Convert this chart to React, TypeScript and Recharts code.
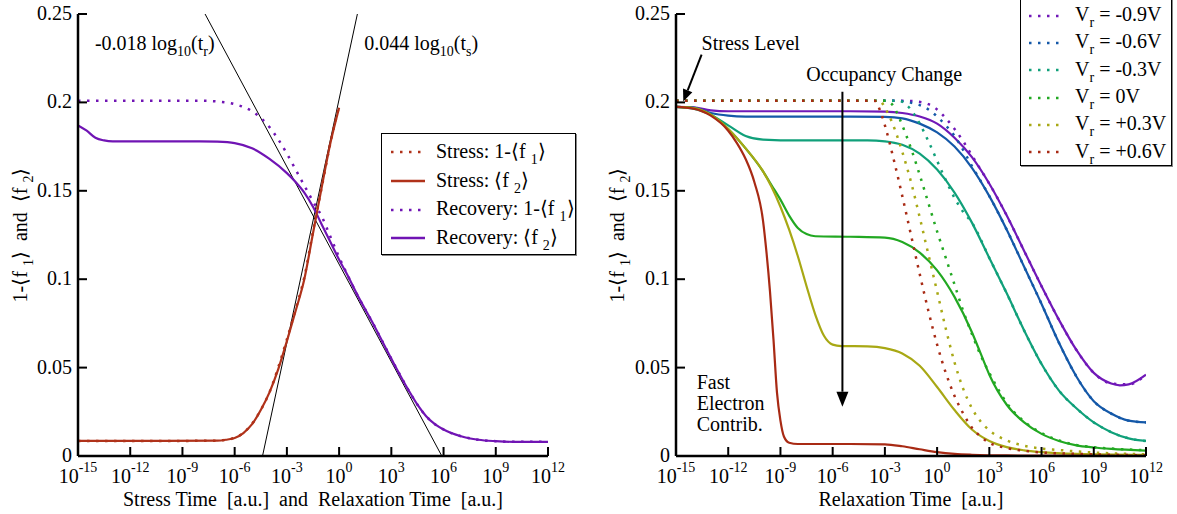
import React from 'react';
import { ComposedChart, Line, XAxis, YAxis, Legend, ReferenceDot, ReferenceLine } from 'recharts';

const FONT = '"Liberation Serif", "Times New Roman", serif';

// axes (x is log10 of time)
const X_TICKS = [-15, -12, -9, -6, -3, 0, 3, 6, 9, 12];
const Y_TICKS = [0, 0.05, 0.1, 0.15, 0.2, 0.25];
const Y_TICK_LABELS = ['0', '0.05', '0.1', '0.15', '0.2', '0.25'];

// left panel: stress
const STRESS_T = [-15, -10, -7, -6.5, -6, -5.5, -5, -4.5, -4, -3.5, -3, -2.5, -2, -1.5, -1, -0.5, 0];
const STRESS_F1 = [0.0085, 0.0085, 0.0087, 0.0092, 0.0103, 0.0131, 0.0183, 0.026, 0.036, 0.05, 0.066, 0.083, 0.101, 0.127, 0.152, 0.177, 0.198];
const STRESS_F2 = [0.0085, 0.0085, 0.0087, 0.0092, 0.0102, 0.013, 0.018, 0.026, 0.036, 0.049, 0.065, 0.082, 0.1, 0.126, 0.152, 0.177, 0.197];

// left panel: recovery
const REC_T = [-15, -14.5, -14, -13.5, -13, -12, -10, -8, -7, -6, -5, -4, -3, -2.5, -2, -1.5, -1, -0.5, 0, 0.5, 1, 2, 3, 4, 4.5, 5, 5.5, 6, 7, 8, 9, 10, 12];
const REC_F1 = [0.201, 0.201, 0.201, 0.201, 0.201, 0.201, 0.201, 0.201, 0.2005, 0.199, 0.195, 0.186, 0.171, 0.162, 0.153, 0.144, 0.1355, 0.124, 0.1125, 0.102, 0.092, 0.074, 0.055, 0.037, 0.029, 0.0225, 0.018, 0.015, 0.0112, 0.0092, 0.0084, 0.008, 0.008];
const REC_F2 = [0.187, 0.184, 0.18, 0.1785, 0.178, 0.178, 0.178, 0.178, 0.1778, 0.177, 0.174, 0.168, 0.16, 0.155, 0.149, 0.141, 0.131, 0.121, 0.111, 0.102, 0.092, 0.074, 0.055, 0.037, 0.029, 0.0225, 0.018, 0.015, 0.0112, 0.0092, 0.0084, 0.008, 0.008];

// fitted slopes
const FIT_R_T = [-7.7, 5.9];
const FIT_R_V = [0.25, 0];
const FIT_S_T = [-4.4, 1.05];
const FIT_S_V = [0, 0.25];

const LEFT_NAMES = ['Stress: 1-⟨f {1}⟩', 'Stress: ⟨f {2}⟩', 'Recovery: 1-⟨f {1}⟩', 'Recovery: ⟨f {2}⟩'];
const LEFT_COLORS = ['#b0321a', '#b0321a', '#7014b4', '#7014b4'];

// right panel: relaxation at different V_r
const VR_NAMES = ['V{r} = -0.9V', 'V{r} = -0.6V', 'V{r} = -0.3V', 'V{r} = 0V', 'V{r} = +0.3V', 'V{r} = +0.6V'];
const VR_COLORS = ['#7018b8', '#1458a8', '#10a07a', '#22a822', '#a8a814', '#a82a14'];

const N09_T = [-15, -14, -13, -12, -10, -5, -3, -2, -1, 0, 1, 2, 3, 4, 5, 6, 7, 8, 9, 10, 10.5, 11, 12];
const N09_F2 = [0.1975, 0.1972, 0.1955, 0.195, 0.195, 0.195, 0.1948, 0.194, 0.192, 0.188, 0.18, 0.169, 0.154, 0.136, 0.116, 0.096, 0.077, 0.06, 0.047, 0.041, 0.04, 0.0405, 0.046];
const N09_DT = [-15, -2, -1.2, -0.5, 0, 0.5, 1, 1.5, 2, 2.5, 3, 4, 5, 6, 7, 8, 9, 10, 11, 12];
const N09_F1 = [0.201, 0.201, 0.2005, 0.199, 0.196, 0.191, 0.185, 0.178, 0.17, 0.162, 0.154, 0.136, 0.116, 0.096, 0.077, 0.06, 0.047, 0.041, 0.0405, 0.046];

const N06_T = [-15, -14, -13, -12, -11, -5, -3, -2, -1, 0, 1, 2, 3, 4, 5, 6, 7, 8, 9, 10, 11, 12];
const N06_F2 = [0.1975, 0.197, 0.194, 0.1925, 0.192, 0.192, 0.1918, 0.191, 0.188, 0.183, 0.175, 0.163, 0.147, 0.128, 0.107, 0.086, 0.064, 0.045, 0.031, 0.024, 0.02, 0.019];
const N06_DT = [-15, -2.5, -1.6, -1, -0.5, 0, 0.5, 1, 1.5, 2, 3, 4, 5, 6, 7, 8, 9, 10, 11, 12];
const N06_F1 = [0.201, 0.201, 0.2, 0.1985, 0.196, 0.192, 0.187, 0.181, 0.173, 0.164, 0.147, 0.128, 0.107, 0.086, 0.064, 0.045, 0.031, 0.024, 0.02, 0.019];

const N03_T = [-15, -14, -13, -12, -11, -10, -8, -4, -3, -2, -1, 0, 1, 2, 3, 4, 5, 6, 7, 8, 9, 10, 11, 12];
const N03_F2 = [0.1975, 0.1965, 0.193, 0.187, 0.181, 0.179, 0.1785, 0.1785, 0.178, 0.176, 0.171, 0.162, 0.149, 0.132, 0.112, 0.092, 0.071, 0.052, 0.037, 0.027, 0.019, 0.0135, 0.01, 0.0085];
const N03_DT = [-15, -2.2, -1.7, -1, -0.5, 0, 0.5, 1, 1.5, 2, 3, 4, 5, 6, 7, 8, 9, 10, 11, 12];
const N03_F1 = [0.201, 0.201, 0.198, 0.188, 0.178, 0.167, 0.156, 0.146, 0.138, 0.132, 0.112, 0.092, 0.071, 0.052, 0.037, 0.027, 0.019, 0.0135, 0.01, 0.0085];

const Z0_T = [-15, -14, -13, -12, -11, -10, -9.5, -9, -8.5, -8, -7.5, -7, -5, -3, -2, -1, 0, 1, 2, 2.5, 3, 4, 5, 6, 7, 8, 9, 10, 12];
const Z0_F2 = [0.1975, 0.1968, 0.193, 0.185, 0.174, 0.161, 0.153, 0.145, 0.136, 0.129, 0.1255, 0.1243, 0.124, 0.1235, 0.121, 0.115, 0.105, 0.09, 0.07, 0.058, 0.046, 0.029, 0.019, 0.0125, 0.0085, 0.006, 0.0048, 0.004, 0.003];
const Z0_DT = [-15, -3, -2.6, -2.3, -2, -1.5, -1, -0.5, 0, 0.5, 1, 1.5, 2, 2.5, 3, 4, 5, 6, 7, 8, 9, 10, 12];
const Z0_F1 = [0.201, 0.201, 0.199, 0.194, 0.187, 0.174, 0.159, 0.143, 0.127, 0.112, 0.097, 0.082, 0.069, 0.057, 0.047, 0.03, 0.0195, 0.013, 0.0088, 0.0062, 0.005, 0.0042, 0.0033];

const P03_T = [-15, -14, -13, -12, -11, -10, -9.5, -9, -8.5, -8, -7.5, -7, -6.5, -6, -5.5, -4, -3, -2, -1, 0, 1, 2, 3, 4, 5, 6, 8, 12];
const P03_F2 = [0.1975, 0.1968, 0.193, 0.185, 0.174, 0.161, 0.152, 0.141, 0.128, 0.113, 0.096, 0.08, 0.068, 0.063, 0.0622, 0.062, 0.061, 0.058, 0.051, 0.039, 0.026, 0.015, 0.0085, 0.005, 0.0032, 0.0022, 0.0012, 0.0006];
const P03_DT = [-15, -3.3, -3, -2.6, -2, -1.5, -1, -0.5, 0, 0.5, 1, 1.5, 2, 2.5, 3, 4, 5, 6, 7, 8, 9, 10, 12];
const P03_F1 = [0.201, 0.201, 0.197, 0.189, 0.172, 0.155, 0.135, 0.114, 0.093, 0.072, 0.053, 0.038, 0.027, 0.0195, 0.0145, 0.0088, 0.0058, 0.0042, 0.0034, 0.0026, 0.002, 0.0015, 0.001];

const P06_T = [-15, -14, -13, -12, -11.5, -11, -10.5, -10, -9.8, -9.6, -9.4, -9.2, -9, -8.8, -8.5, -8, -5, -3, -2, -1, 0, 1, 2, 4, 12];
const P06_F2 = [0.1975, 0.1965, 0.1925, 0.184, 0.177, 0.168, 0.155, 0.133, 0.115, 0.093, 0.066, 0.036, 0.02, 0.011, 0.0075, 0.0068, 0.0068, 0.0066, 0.0055, 0.0038, 0.0022, 0.0012, 0.0007, 0.0003, 0.0001];
const P06_DT = [-15, -3.6, -3.3, -3, -2.5, -2, -1.5, -1, -0.5, 0, 0.5, 1, 1.5, 2, 2.5, 3, 4, 5, 6, 8, 10, 12];
const P06_F1 = [0.201, 0.201, 0.196, 0.187, 0.168, 0.147, 0.125, 0.103, 0.082, 0.063, 0.047, 0.034, 0.024, 0.016, 0.011, 0.0075, 0.0045, 0.003, 0.002, 0.0012, 0.0007, 0.0004];

const VR_SOLID = [[N09_T, N09_F2], [N06_T, N06_F2], [N03_T, N03_F2], [Z0_T, Z0_F2], [P03_T, P03_F2], [P06_T, P06_F2]];
const VR_DOTTED = [[N09_DT, N09_F1], [N06_DT, N06_F1], [N03_DT, N03_F1], [Z0_DT, Z0_F1], [P03_DT, P03_F1], [P06_DT, P06_F1]];

const zip = (t: number[], v: number[]) => t.map((x, i) => ({ t: x, v: v[i] }));

const DOTS = '2.5 6.5';
const FS = 20;

// "{x}" in a label means subscript x
const parts = (s: string) => s.split(/(\{[^}]*\})/).filter(Boolean);

const HtmlText = ({ s }: { s: string }) => (
  <>
    {parts(s).map((p, i) =>
      p.startsWith('{') ? (
        <span key={i} style={{ fontSize: 14, position: 'relative', top: 6 }}>{p.slice(1, -1)}</span>
      ) : (
        <span key={i}>{p}</span>
      )
    )}
  </>
);

const svgSpans = (s: string, sub = 14, shift = 6) => {
  let down = false;
  return parts(s).map((p, i) => {
    if (p.startsWith('{')) {
      const el = <tspan key={i} dy={down ? 0 : shift} fontSize={sub}>{p.slice(1, -1)}</tspan>;
      down = true;
      return el;
    }
    const el = <tspan key={i} dy={down ? -shift : 0}>{p}</tspan>;
    down = false;
    return el;
  });
};

const PowTick = ({ x, y, payload }: any) => (
  <text x={x} y={y + 27} textAnchor="middle" fontFamily={FONT} fontSize={FS} fill="#000">
    10<tspan dy={-11} fontSize={14}>{payload.value}</tspan>
  </text>
);

const YTick = ({ x, y, payload }: any) => (
  <text x={x} y={y + 6} textAnchor="end" fontFamily={FONT} fontSize={FS} fill="#000">
    {Y_TICK_LABELS[Y_TICKS.indexOf(payload.value)]}
  </text>
);

const yTitle = (dx: number) => ({ viewBox }: any) => {
  const cx = viewBox.x + dx;
  const cy = viewBox.y + viewBox.height / 2;
  return (
    <text transform={`translate(${cx},${cy}) rotate(-90)`} textAnchor="middle" fontFamily={FONT} fontSize={FS} fill="#000" style={{ whiteSpace: 'pre' }}>
      {svgSpans('1-⟨f {1}⟩  and  ⟨f {2}⟩')}
    </text>
  );
};

const xTitle = (text: string) => ({ viewBox }: any) => (
  <text x={viewBox.x + viewBox.width / 2} y={viewBox.y + 50} textAnchor="middle" fontFamily={FONT} fontSize={FS} fill="#000" style={{ whiteSpace: 'pre' }}>
    {text}
  </text>
);

const note = (s: string, lineGap = 0) => ({ viewBox }: any) => {
  const lines = s.split('\n');
  return (
    <text x={viewBox.x} y={viewBox.y} fontFamily={FONT} fontSize={FS} fill="#000">
      {lines.length > 1
        ? lines.map((l, i) => (
            <tspan key={i} x={viewBox.x} dy={i === 0 ? 0 : lineGap}>{l}</tspan>
          ))
        : svgSpans(s)}
    </text>
  );
};

const arrow = (len: number, half: number) => (p: any) => {
  const { x1, y1, x2, y2 } = p;
  const a = Math.atan2(y2 - y1, x2 - x1);
  const bx = x2 - len * Math.cos(a);
  const by = y2 - len * Math.sin(a);
  const nx = -Math.sin(a) * half;
  const ny = Math.cos(a) * half;
  return (
    <g>
      <line x1={x1} y1={y1} x2={bx} y2={by} stroke="#000" strokeWidth={2} />
      <polygon points={`${x2},${y2} ${bx + nx},${by + ny} ${bx - nx},${by - ny}`} fill="#000" />
    </g>
  );
};

const legendBox = (order: string[], box: React.CSSProperties, rowH: number, sampleW: number, gap: number) => (props: any) => {
  const items = (props.payload || [])
    .filter((e: any) => order.includes(e.value))
    .sort((a: any, b: any) => order.indexOf(a.value) - order.indexOf(b.value));
  return (
    <div style={{ border: '1.5px solid #000', boxShadow: '1px 1px 0 #888', background: '#fff', fontFamily: FONT, fontSize: FS, color: '#000', boxSizing: 'border-box', ...box }}>
      {items.map((e: any) => (
        <div key={e.value} style={{ display: 'flex', alignItems: 'center', height: rowH, whiteSpace: 'pre' }}>
          <svg width={sampleW} height={8} style={{ flex: 'none' }}>
            <line x1={2} x2={sampleW - 2} y1={4} y2={4} stroke={e.color} strokeWidth={2.5} strokeDasharray={e.payload?.strokeDasharray} />
          </svg>
          <span style={{ marginLeft: gap, lineHeight: '20px' }}>
            <HtmlText s={e.value} />
          </span>
        </div>
      ))}
    </div>
  );
};

const frameAxes = (id: string) => [
  <XAxis key="xt" xAxisId={`${id}t`} orientation="top" type="number" dataKey="t" domain={[-15, 12]} ticks={X_TICKS} interval={0} height={0} tick={false} tickSize={-9} axisLine={{ stroke: '#000', strokeWidth: 2.5 }} tickLine={{ stroke: '#000', strokeWidth: 2 }} allowDataOverflow />,
  <YAxis key="yr" yAxisId={`${id}r`} orientation="right" type="number" domain={[0, 0.25]} ticks={Y_TICKS} interval={0} width={0} tick={false} tickSize={-9} axisLine={{ stroke: '#000', strokeWidth: 2.5 }} tickLine={{ stroke: '#000', strokeWidth: 2 }} allowDataOverflow />,
];

const mainAxes = (yw: number, titleDx: number, xText: string) => [
  <XAxis key="x" type="number" dataKey="t" domain={[-15, 12]} ticks={X_TICKS} interval={0} height={58} tick={<PowTick />} tickSize={-9} tickMargin={9} axisLine={{ stroke: '#000', strokeWidth: 2.5 }} tickLine={{ stroke: '#000', strokeWidth: 2 }} label={xTitle(xText)} allowDataOverflow />,
  <YAxis key="y" type="number" domain={[0, 0.25]} ticks={Y_TICKS} interval={0} width={yw} tick={<YTick />} tickSize={-9} tickMargin={15} axisLine={{ stroke: '#000', strokeWidth: 2.5 }} tickLine={{ stroke: '#000', strokeWidth: 2 }} label={yTitle(titleDx)} allowDataOverflow />,
];

const LeftChart = () => (
  <ComposedChart width={590} height={514} margin={{ top: 14, right: 42, bottom: 0, left: 0 }}>
    {mainAxes(78, 27, 'Stress Time  [a.u.]  and  Relaxation Time  [a.u.]')}
    {frameAxes('l')}
    <Line data={zip(FIT_R_T, FIT_R_V)} dataKey="v" type="linear" stroke="#000" strokeWidth={1} dot={false} activeDot={false} legendType="none" name="fit r" isAnimationActive={false} />
    <Line data={zip(FIT_S_T, FIT_S_V)} dataKey="v" type="linear" stroke="#000" strokeWidth={1} dot={false} activeDot={false} legendType="none" name="fit s" isAnimationActive={false} />
    <Line data={zip(REC_T, REC_F1)} dataKey="v" type="monotone" stroke={LEFT_COLORS[2]} strokeWidth={2.5} strokeDasharray={DOTS} dot={false} activeDot={false} name={LEFT_NAMES[2]} isAnimationActive={false} />
    <Line data={zip(REC_T, REC_F2)} dataKey="v" type="monotone" stroke={LEFT_COLORS[3]} strokeWidth={2.2} dot={false} activeDot={false} name={LEFT_NAMES[3]} isAnimationActive={false} />
    <Line data={zip(STRESS_T, STRESS_F2)} dataKey="v" type="monotone" stroke={LEFT_COLORS[1]} strokeWidth={2.2} dot={false} activeDot={false} name={LEFT_NAMES[1]} isAnimationActive={false} />
    <Line data={zip(STRESS_T, STRESS_F1)} dataKey="v" type="monotone" stroke={LEFT_COLORS[0]} strokeWidth={2.5} strokeDasharray={DOTS} dot={false} activeDot={false} name={LEFT_NAMES[0]} isAnimationActive={false} />
    <ReferenceDot x={-14.03} y={0.2297} r={0} fill="none" stroke="none" label={note('-0.018 log{10}(t{r})')} />
    <ReferenceDot x={1.44} y={0.2297} r={0} fill="none" stroke="none" label={note('0.044 log{10}(t{s})')} />
    <Legend layout="vertical" align="center" verticalAlign="middle" wrapperStyle={{ left: 381, top: 133, width: 195 }} content={legendBox(LEFT_NAMES, { width: 195, height: 122, padding: '4px 0 0 7px' }, 28.7, 38, 9)} />
  </ComposedChart>
);

const RightChart = () => (
  <ComposedChart width={587} height={514} margin={{ top: 14, right: 31, bottom: 0, left: 0 }}>
    {mainAxes(86, 34, 'Relaxation Time  [a.u.]')}
    {frameAxes('r')}
    {VR_SOLID.map(([t, v], i) => (
      <Line key={`s${i}`} data={zip(t, v)} dataKey="v" type="monotone" stroke={VR_COLORS[i]} strokeWidth={2.2} dot={false} activeDot={false} legendType="none" name={`solid ${i}`} isAnimationActive={false} />
    ))}
    {VR_DOTTED.map(([t, v], i) => (
      <Line key={`d${i}`} data={zip(t, v)} dataKey="v" type="monotone" stroke={VR_COLORS[i]} strokeWidth={2.5} strokeDasharray={DOTS} dot={false} activeDot={false} name={VR_NAMES[i]} isAnimationActive={false} />
    ))}
    <ReferenceLine segment={[{ x: -13.53, y: 0.227 }, { x: -14.58, y: 0.2005 }]} shape={arrow(12, 5)} />
    <ReferenceLine segment={[{ x: -5.44, y: 0.206 }, { x: -5.44, y: 0.0279 }]} shape={arrow(15, 6)} />
    <ReferenceDot x={-13.53} y={0.2297} r={0} fill="none" stroke="none" label={note('Stress Level')} />
    <ReferenceDot x={-7.52} y={0.2122} r={0} fill="none" stroke="none" label={note('Occupancy Change')} />
    <ReferenceDot x={-13.81} y={0.0378} r={0} fill="none" stroke="none" label={note('Fast\nElectron\nContrib.', 20.7)} />
    <Legend layout="vertical" align="center" verticalAlign="middle" wrapperStyle={{ left: 430, top: -2, width: 152 }} content={legendBox(VR_NAMES, { width: 152, height: 168, padding: '3px 0 0 6px' }, 27.3, 34, 14)} />
  </ComposedChart>
);

export default function App() {
  return (
    <div style={{ position: 'fixed', left: 0, top: 0, width: 1177, height: 514, background: '#fff', overflow: 'hidden' }}>
      <div style={{ position: 'absolute', left: 0, top: 0 }}>
        <LeftChart />
      </div>
      <div style={{ position: 'absolute', left: 590, top: 0 }}>
        <RightChart />
      </div>
    </div>
  );
}
